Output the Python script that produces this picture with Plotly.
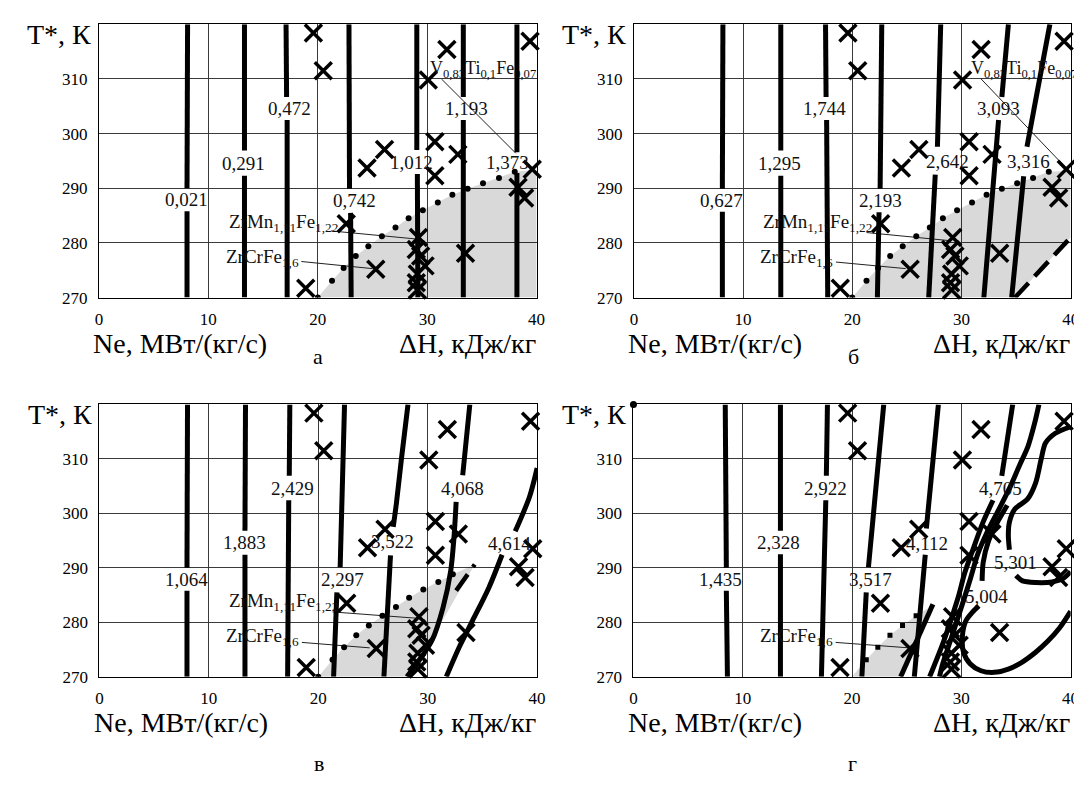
import plotly.graph_objects as go

W, H = 1082, 790
FONT = "Liberation Serif"

# ---------------- axes ----------------
X_TICKS = [0, 10, 20, 30, 40]
T_TICKS = [270, 280, 290, 300, 310]
X_RANGE = [0, 40]
T_RANGE = [270, 320]

# panel plot areas in pixels (left, right) / (top, bottom)
PANEL_X_PX = [(88, 531), (629.5, 1071.5), (88.5, 531.5), (629, 1071.5)]
PANEL_Y_PX = [(16.5, 293.3), (16.5, 293.3), (401.5, 677.3), (401.5, 677.3)]
PANEL_LETTERS = ["а", "б", "в", "г"]

# ---------------- shared data ----------------
# material points (crosses)
CROSS_X = [19.6, 20.5, 31.8, 39.4, 30.1, 30.7, 26.1, 24.5, 32.8, 30.7, 39.6, 38.3, 38.9,
           22.6, 33.5, 25.3, 18.9, 29.2, 29.0, 29.4, 29.8, 29.1, 29.0, 29.1]
CROSS_T = [318.4, 311.5, 315.4, 316.9, 309.8, 298.5, 297.1, 293.7, 296.2, 292.3, 293.5, 290.2, 288.2,
           283.5, 278.1, 275.2, 271.7, 281.0, 278.8, 277.6, 275.8, 274.3, 272.7, 271.4]

# dotted boundary line
DOT_X = [20.0, 21.3, 22.36, 23.47, 24.62, 25.86, 27.1, 28.3, 29.6, 30.97, 32.3, 33.7, 35.1, 36.56, 38.0]
DOT_T = [270.0, 273.1, 275.4, 277.6, 279.4, 281.2, 282.8, 284.5, 286.0, 287.4, 288.8, 289.9, 290.9, 291.9, 293.0]
DOTS_SHOWN = [(0, 15), (0, 15), (0, 11), (1, 6)]
SHADE_DOTS = [15, 15, 11, 6]

# shaded areas (extra corners appended to the dotted boundary)
A_SHADE_X = [40.0, 40.0]
A_SHADE_T = [293.4, 270.0]
B_SHADE_X = [40.0, 40.0, 34.9]
B_SHADE_T = [293.2, 281.0, 270.0]
C_SHADE_X = [34.3, 28.4]
C_SHADE_T = [290.6, 270.0]
D_SHADE_X = [27.0, 24.45]
D_SHADE_T = [282.6, 270.0]

# ---------------- panel a ----------------
A_LINES = [
    ([8.05, 8.05], [270, 285.8]), ([8.05, 8.1], [290.0, 320]),
    ([13.3, 13.3], [270, 292.3]), ([13.3, 13.3], [296.9, 320]),
    ([17.2, 17.2], [270, 302.5]), ([17.15, 17.1], [306.7, 320]),
    ([23.05, 23.0], [270, 285.5]), ([22.9, 22.85], [289.9, 320]),
    ([29.15, 29.1], [270, 292.6]), ([29.05, 29.05], [297.0, 320]),
    ([33.3, 33.3], [270, 302.5]), ([33.3, 33.3], [306.7, 320]),
    ([38.2, 38.2], [270, 292.8]), ([38.2, 38.2], [296.6, 320]),
]
A_LABELS = ["0,021", "0,291", "0,472", "0,742", "1,012", "1,193", "1,373"]
A_LAB_X = [8.0, 13.2, 17.4, 23.35, 28.6, 33.6, 37.3]
A_LAB_T = [287.9, 294.6, 304.6, 287.7, 294.8, 304.6, 294.7]

# ---------------- panel b ----------------
B_LINES = [
    ([8.1, 8.1], [270, 285.7]), ([8.1, 8.15], [289.9, 320]),
    ([13.45, 13.45], [270, 292.3]), ([13.45, 13.45], [296.9, 320]),
    ([17.75, 17.65], [270, 302.5]), ([17.6, 17.55], [306.7, 320]),
    ([22.3, 22.45], [270, 285.6]), ([22.55, 22.7], [289.9, 320]),
    ([27.0, 27.6], [270, 292.5]), ([27.8, 28.1], [297.6, 320]),
    ([32.05, 33.4], [270, 302.5]), ([33.7, 34.3], [306.7, 320]),
    ([34.6, 35.7], [270, 292.2]), ([36.0, 38.1], [297.6, 320]),
]
B_LABELS = ["0,627", "1,295", "1,744", "2,193", "2,642", "3,093", "3,316"]
B_LAB_X = [8.0, 13.35, 17.45, 22.55, 28.7, 33.4, 36.1]
B_LAB_T = [287.8, 294.6, 304.6, 287.7, 294.9, 304.6, 294.9]
B_DASH_X = [34.9, 40.0]
B_DASH_T = [270.0, 281.0]

# ---------------- panel c ----------------
C_LINES = [
    ([8.0, 8.0], [270, 285.8]), ([8.0, 8.05], [290.0, 320]),
    ([13.3, 13.3], [270, 292.4]), ([13.3, 13.35], [296.8, 320]),
    ([17.2, 17.3], [270, 302.4]), ([17.35, 17.4], [306.9, 320]),
    ([21.4, 21.7], [270, 285.5]), ([22.0, 22.4], [290.1, 320]),
    ([26.0, 26.6], [270, 292.3]), ([26.85, 27.15, 27.6, 28.2], [297.5, 302, 310, 320]),
    ([28.1, 29.0, 30.4, 31.4, 32.1, 32.4, 32.6], [270, 272.4, 276.7, 282.7, 289.4, 295.5, 302.1]),
    ([33.2, 33.55, 33.85], [307.0, 314, 320]),
    ([31.7, 32.9, 34.1, 35.6, 36.8], [270, 275.5, 280.3, 286.4, 292.4]),
    ([38.0, 39.3, 40.0], [296.7, 303, 308.3]),
]
C_LABELS = ["1,064", "1,883", "2,429", "2,297", "3,522", "4,068", "4,614"]
C_LAB_X = [8.0, 13.3, 17.6, 22.2, 26.8, 33.2, 37.5]
C_LAB_T = [287.9, 294.6, 304.65, 287.8, 294.9, 304.55, 294.4]
C_DASH_X = [32.6, 34.3]
C_DASH_T = [285.8, 290.6]

# ---------------- panel d ----------------
D_LINES = [
    ([8.6, 8.5], [270, 285.8]), ([8.5, 8.4], [290.0, 320]),
    ([13.45, 13.45], [270, 292.5]), ([13.45, 13.45], [296.8, 320]),
    ([17.2, 17.6], [270, 302.4]), ([17.65, 17.75], [306.9, 320]),
    ([20.9, 21.3], [270, 285.5]), ([21.5, 22.9], [290.1, 320]),
    ([25.7, 26.7], [270, 292.4]), ([26.8, 27.9], [297.2, 320]),
    ([24.45, 27.4], [270, 283.3]),
    ([27.1, 28.4, 29.7, 30.3, 31.0, 31.95, 32.9], [270, 276.6, 284.5, 289, 293, 298.2, 302.4]),
    ([33.7, 34.7], [306.9, 320]),
    ([28.0, 28.3, 29.0, 29.9, 30.8, 31.5, 32.3, 33.4, 34.5, 35.3, 36.1, 36.7, 37.1],
     [270, 272.4, 276.6, 282.1, 287.8, 292.5, 296.3, 300.6, 305, 308.7, 312.3, 316.5, 320]),
    ([31.9, 32.0, 32.5, 33.2, 34.2], [287.6, 291, 295, 298, 301.5]),
    ([31.6, 31.0, 30.4, 30.1, 30.2, 30.8, 31.8, 33.0, 34.3, 35.5, 36.8, 37.9, 39.0, 40.0],
     [283.0, 281.8, 280.2, 277.5, 274.5, 272.4, 271.1, 270.8, 271.4, 272.6, 274.5, 276.5, 279.0, 282.0]),
    ([40.0, 38.6, 37.7, 37.3, 36.8, 36.05, 34.9, 34.4, 34.3, 34.4],
     [315.9, 314.7, 312.9, 309.9, 305.6, 302.6, 300.8, 298.4, 296.0, 293.3]),
    ([35.0, 35.6, 36.8, 38.3, 39.3, 40.0], [288.6, 287.6, 287.3, 287.4, 288.0, 289.3]),
]
D_LABELS = ["1,435", "2,328", "2,922", "3,517", "4,112", "4,705", "5,004", "5,301"]
D_LAB_X = [8.0, 13.3, 17.6, 21.65, 26.9, 33.6, 32.3, 35.0]
D_LAB_T = [287.9, 294.65, 304.65, 287.8, 294.4, 304.6, 284.8, 290.9]
D_CORNER_X = [0.0]
D_CORNER_T = [320.0]

# ---------------- material labels ----------------
ZRMN_TEXT = "ZrMn<sub>1,11</sub>Fe<sub>1,22</sub>"
ZRCR_TEXT = "ZrCrFe<sub>1,6</sub>"
V_TEXT = "V<sub>0,83</sub>Ti<sub>0,1</sub>Fe<sub>0,07</sub>"
ZRMN_POS = (22.0, 283.7)
ZRCR_POS = (18.45, 277.3)
V_POS = [(30.1, 311.7), (30.7, 311.7)]
ZRMN_LEAD = [([21.2, 29.1], [282.2, 280.7]), ([21.3, 29.0], [281.9, 280.4]), ([21.3, 29.25], [281.9, 280.7]), None]
ZRCR_LEAD = [([18.5, 25.0], [276.6, 275.3]), ([18.5, 24.9], [276.5, 275.3]), ([18.5, 24.7], [276.3, 275.3]),
             ([18.5, 25.2], [276.3, 275.3])]
V_LEAD = [([31.3, 38.1], [310.0, 296.4]), ([31.8, 39.3], [310.0, 294.3]), None, None]

LINES = [A_LINES, B_LINES, C_LINES, D_LINES]
LABELS = [(A_LABELS, A_LAB_X, A_LAB_T), (B_LABELS, B_LAB_X, B_LAB_T),
          (C_LABELS, C_LAB_X, C_LAB_T), (D_LABELS, D_LAB_X, D_LAB_T)]
SHADES = [(A_SHADE_X, A_SHADE_T), (B_SHADE_X, B_SHADE_T), (C_SHADE_X, C_SHADE_T), (D_SHADE_X, D_SHADE_T)]
DASHES = [None, (B_DASH_X, B_DASH_T), (C_DASH_X, C_DASH_T), None]


def fx(px):
    return px / W


def fy(py):
    return 1 - py / H


fig = go.Figure()
layout = dict(width=W, height=H, margin=dict(l=0, r=0, t=0, b=0),
              paper_bgcolor="white", plot_bgcolor="white", showlegend=False,
              font=dict(family=FONT, color="black"))
annotations = []

for i in range(4):
    s = "" if i == 0 else str(i + 1)
    xa, ya = "x" + s, "y" + s
    (l, r), (t, b) = PANEL_X_PX[i], PANEL_Y_PX[i]
    common = dict(showgrid=True, gridcolor="#3a3a3a", gridwidth=1, showline=True, mirror=True,
                  linecolor="black", linewidth=1, zeroline=False, ticks="",
                  tickfont=dict(family=FONT, size=17, color="black"), fixedrange=True)
    layout["xaxis" + s] = dict(domain=[fx(l), fx(r)], range=X_RANGE, anchor=ya, tickvals=X_TICKS,
                               ticklabelstandoff=6, **common)
    layout["yaxis" + s] = dict(domain=[fy(b), fy(t)], range=T_RANGE, anchor=xa, tickvals=T_TICKS,
                               ticklabelstandoff=7, **common)

    # shaded area
    d0, d1 = DOTS_SHOWN[i]
    n = SHADE_DOTS[i]
    sx, st = SHADES[i]
    fig.add_trace(go.Scatter(x=DOT_X[:n] + sx, y=DOT_T[:n] + st, xaxis=xa, yaxis=ya, mode="lines",
                             fill="toself", fillcolor="rgba(0,0,0,0.15)", line=dict(width=0),
                             hoverinfo="skip"))

    # leader lines
    for lead in (ZRMN_LEAD[i], ZRCR_LEAD[i], V_LEAD[i]):
        if lead is not None:
            fig.add_trace(go.Scatter(x=lead[0], y=lead[1], xaxis=xa, yaxis=ya, mode="lines",
                                     line=dict(color="#222222", width=1), hoverinfo="skip"))

    # dots
    fig.add_trace(go.Scatter(x=DOT_X[d0:d1], y=DOT_T[d0:d1], xaxis=xa, yaxis=ya, mode="markers",
                             marker=dict(color="black", size=6 if i < 3 else 5,
                                         symbol="circle" if i < 3 else "square"),
                             hoverinfo="skip"))

    # contour strokes
    for xs, ts in LINES[i]:
        fig.add_trace(go.Scatter(x=xs, y=ts, xaxis=xa, yaxis=ya, mode="lines",
                                 line=dict(color="black", width=5, shape="spline", smoothing=0.8),
                                 hoverinfo="skip"))
    if DASHES[i] is not None:
        fig.add_trace(go.Scatter(x=DASHES[i][0], y=DASHES[i][1], xaxis=xa, yaxis=ya, mode="lines",
                                 line=dict(color="black", width=4.5, dash="20px,9px"), hoverinfo="skip"))

    # crosses
    fig.add_trace(go.Scatter(x=CROSS_X, y=CROSS_T, xaxis=xa, yaxis=ya, mode="markers", cliponaxis=False,
                             marker=dict(symbol="x-thin", size=17, line=dict(width=3.5, color="black")),
                             hoverinfo="skip"))
    if i == 3:
        fig.add_trace(go.Scatter(x=D_CORNER_X, y=D_CORNER_T, xaxis=xa, yaxis=ya, mode="markers",
                                 cliponaxis=False, marker=dict(color="black", size=7), hoverinfo="skip"))

    # contour labels
    labs, lx, lt = LABELS[i]
    for txt, x0, t0 in zip(labs, lx, lt):
        annotations.append(dict(x=x0, y=t0, xref=xa, yref=ya, text=txt, showarrow=False,
                                font=dict(family=FONT, size=19, color="#111111"),
                                xanchor="center", yanchor="middle"))

    # material labels
    if ZRMN_LEAD[i] is not None:
        annotations.append(dict(x=ZRMN_POS[0], y=ZRMN_POS[1], xref=xa, yref=ya, text=ZRMN_TEXT,
                                showarrow=False, font=dict(family=FONT, size=19, color="#111111"),
                                xanchor="right", yanchor="middle"))
    annotations.append(dict(x=ZRCR_POS[0], y=ZRCR_POS[1], xref=xa, yref=ya, text=ZRCR_TEXT,
                            showarrow=False, font=dict(family=FONT, size=19, color="#111111"),
                            xanchor="right", yanchor="middle"))
    if V_LEAD[i] is not None:
        annotations.append(dict(x=V_POS[i][0], y=V_POS[i][1], xref=xa, yref=ya, text=V_TEXT,
                                showarrow=False, font=dict(family=FONT, size=18, color="#111111"),
                                xanchor="left", yanchor="middle"))

    # axis titles and panel letters
    annotations.append(dict(x=fx(l - 6), y=fy(t + 10), xref="paper", yref="paper", text="T*, К",
                            showarrow=False, font=dict(family=FONT, size=28), xanchor="right",
                            yanchor="middle"))
    annotations.append(dict(x=fx(l - 8), y=fy(b + 46), xref="paper", yref="paper",
                            text="Ne, МВт/(кг/с)", showarrow=False, font=dict(family=FONT, size=28),
                            xanchor="left", yanchor="middle"))
    annotations.append(dict(x=fx(r + 1), y=fy(b + 46), xref="paper", yref="paper",
                            text="ΔH, кДж/кг", showarrow=False, font=dict(family=FONT, size=28),
                            xanchor="right", yanchor="middle"))
    ly = b + 60 if i < 2 else b + 88
    annotations.append(dict(x=fx(l + 222), y=fy(ly), xref="paper", yref="paper",
                            text=PANEL_LETTERS[i], showarrow=False, font=dict(family=FONT, size=22),
                            xanchor="center", yanchor="middle"))

layout["annotations"] = annotations
fig.update_layout(**layout)
fig.write_html("out.html")
